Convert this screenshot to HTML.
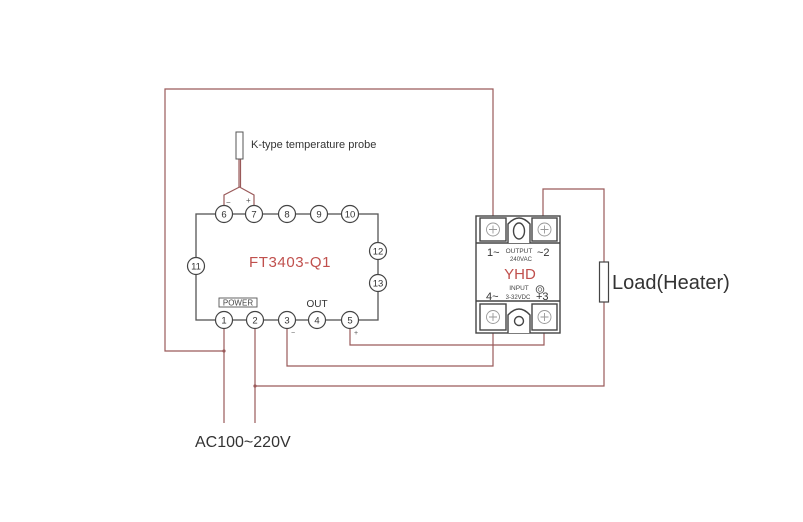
<!DOCTYPE html>
<html><head><meta charset="utf-8"><style>
html,body{margin:0;padding:0;background:#fff;}
svg{display:block;}
text{font-family:"Liberation Sans",sans-serif;}
</style></head><body>
<svg width="803" height="522" viewBox="0 0 803 522" xmlns="http://www.w3.org/2000/svg">
<rect width="803" height="522" fill="#fff"/>
<!-- red wires -->
<g fill="none" stroke="#9a5a5a" stroke-width="1.2">
  <polyline points="493,216 493,89 165,89 165,351 224,351"/>
  <polyline points="543,216 543,189 604,189 604,262"/>
  <polyline points="604,302 604,386 255,386"/>
  <line x1="224" y1="328" x2="224" y2="423"/>
  <line x1="255" y1="328" x2="255" y2="423"/>
  <polyline points="287,328 287,366 493,366 493,333"/>
  <polyline points="350,328 350,345 544,345 544,333"/>
  <line x1="239" y1="159" x2="239" y2="187"/>
  <line x1="240.5" y1="159" x2="240.5" y2="187"/>
  <polyline points="224,206 224,195 239.5,187 254,195 254,206"/>
</g>
<circle cx="224" cy="351" r="1.6" fill="#9a5a5a"/>
<circle cx="255" cy="386" r="1.6" fill="#9a5a5a"/>
<!-- probe -->
<rect x="236" y="132" width="7" height="27" fill="#fff" stroke="#555" stroke-width="1"/>
<text x="251" y="148" font-size="11" fill="#333">K-type temperature probe</text>
<text x="226" y="205" font-size="8" fill="#555">−</text>
<text x="246" y="203" font-size="8" fill="#555">+</text>
<!-- controller box -->
<g fill="none" stroke="#555" stroke-width="1.3">
  <rect x="196" y="214" width="182" height="106"/>
</g>
<g fill="#fff" stroke="#444" stroke-width="1.2">
  <circle cx="224" cy="214" r="8.5"/><circle cx="254" cy="214" r="8.5"/>
  <circle cx="287" cy="214" r="8.5"/><circle cx="319" cy="214" r="8.5"/>
  <circle cx="350" cy="214" r="8.5"/>
  <circle cx="196" cy="266" r="8.5"/>
  <circle cx="378" cy="251" r="8.5"/><circle cx="378" cy="283" r="8.5"/>
  <circle cx="224" cy="320" r="8.5"/><circle cx="255" cy="320" r="8.5"/>
  <circle cx="287" cy="320" r="8.5"/><circle cx="317" cy="320" r="8.5"/>
  <circle cx="350" cy="320" r="8.5"/>
</g>
<g font-size="9.5" fill="#333" text-anchor="middle">
  <text x="224" y="217.5">6</text><text x="254" y="217.5">7</text>
  <text x="287" y="217.5">8</text><text x="319" y="217.5">9</text>
  <text x="350" y="217.5">10</text>
  <text x="196" y="269.5">11</text>
  <text x="378" y="254.5">12</text><text x="378" y="286.5">13</text>
  <text x="224" y="323.5">1</text><text x="255" y="323.5">2</text>
  <text x="287" y="323.5">3</text><text x="317" y="323.5">4</text>
  <text x="350" y="323.5">5</text>
</g>
<text x="290" y="267" font-size="15" fill="#c0504d" text-anchor="middle" letter-spacing="0.6">FT3403-Q1</text>
<rect x="219" y="298" width="38" height="9" fill="none" stroke="#555" stroke-width="0.9"/>
<text x="238" y="305.5" font-size="8" fill="#444" text-anchor="middle">POWER</text>
<text x="317" y="307" font-size="10" fill="#333" text-anchor="middle">OUT</text>
<text x="293" y="335" font-size="7" fill="#555" text-anchor="middle">−</text>
<text x="356" y="335" font-size="7" fill="#555" text-anchor="middle">+</text>
<!-- relay -->
<g fill="#fff" stroke="#444" stroke-width="1.4">
  <rect x="476" y="216" width="84" height="117"/>
  <line x1="476" y1="243" x2="560" y2="243"/>
  <line x1="476" y1="301" x2="560" y2="301"/>
  <rect x="480" y="218" width="26" height="23"/>
  <rect x="532" y="218" width="25" height="23"/>
  <path d="M508,243 L508,224 Q519,212 530,224 L530,243" />
  <ellipse cx="519" cy="231" rx="5.5" ry="8"/>
  <rect x="480" y="304" width="26" height="26"/>
  <rect x="532" y="304" width="25" height="26"/>
  <path d="M508,333 L508,315 Q519,303 530,315 L530,333" />
  <circle cx="519" cy="321" r="4.5"/>
</g>
<g fill="none" stroke="#999" stroke-width="0.9">
  <circle cx="493" cy="229.5" r="6.5"/><circle cx="544.5" cy="229.5" r="6.5"/>
  <circle cx="493" cy="317" r="6.5"/><circle cx="544.5" cy="317" r="6.5"/>
  <path d="M489,229.5h8M493,225.5v8M540.5,229.5h8M544.5,225.5v8M489,317h8M493,313v8M540.5,317h8M544.5,313v8"/>
</g>
<text x="487" y="256" font-size="11" fill="#333">1~</text>
<text x="519" y="253" font-size="6.5" fill="#444" text-anchor="middle">OUTPUT</text>
<text x="537" y="256" font-size="11" fill="#333">~2</text>
<text x="521" y="261" font-size="6" fill="#444" text-anchor="middle">240VAC</text>
<text x="520" y="279" font-size="15" fill="#c0504d" text-anchor="middle">YHD</text>
<text x="519" y="290" font-size="6.5" fill="#444" text-anchor="middle">INPUT</text>
<text x="486" y="300" font-size="11" fill="#333">4~</text>
<text x="518" y="299" font-size="6" fill="#444" text-anchor="middle">3-32VDC</text>
<circle cx="540" cy="289.5" r="3.8" fill="none" stroke="#555" stroke-width="0.9"/>
<circle cx="540" cy="289.5" r="1.8" fill="none" stroke="#555" stroke-width="0.7"/>
<text x="536" y="300" font-size="11" fill="#333">+3</text>
<!-- load -->
<rect x="599.5" y="262" width="9" height="40" fill="#fff" stroke="#444" stroke-width="1.2"/>
<text x="612" y="289" font-size="20" fill="#333">Load(Heater)</text>
<!-- AC -->
<text x="195" y="447" font-size="16" fill="#333">AC100~220V</text>
</svg>
</body></html>
